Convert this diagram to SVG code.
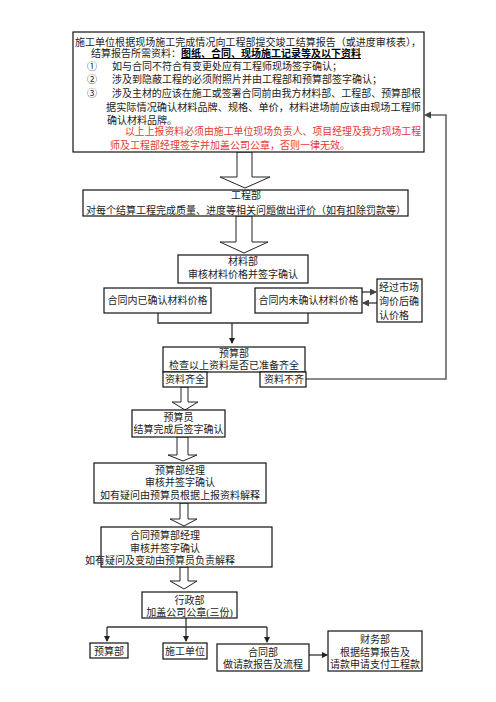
<svg xmlns="http://www.w3.org/2000/svg" width="496" height="702" viewBox="0 0 496 702">
<style>
text{font-family:"Liberation Serif","Noto Sans CJK SC",serif;font-size:10px;fill:#222}
.c{text-anchor:middle}
.red{fill:#e53935}
.box{fill:#fff;stroke:#111;stroke-width:1.2}
.blk{fill:#fff;stroke:#222;stroke-width:1}
.ln{fill:none;stroke:#333;stroke-width:1.3}
.fb{fill:none;stroke:#666;stroke-width:1.6}
</style>
<defs>
<marker id="ah" markerWidth="6" markerHeight="6" refX="5" refY="3" orient="auto" markerUnits="userSpaceOnUse"><path d="M0,0 L6,3 L0,6 Z" fill="#222"/></marker>
<marker id="ahg" markerWidth="7" markerHeight="7" refX="6" refY="3.5" orient="auto" markerUnits="userSpaceOnUse"><path d="M0,0 L7,3.5 L0,7 Z" fill="#444"/></marker>
</defs>
<rect width="496" height="702" fill="#fff"/>

<g id="connectors">
<polygon class="blk" points="237,152 252,152 252,177 270,177 245,188 220,177 237,177"/>
<polygon class="blk" points="236,216 252,216 252,242 268,242 244,253 220,242 236,242"/>
<polyline class="ln" points="158,313 158,323 308,323 308,313"/>
<line class="ln" x1="232" y1="323" x2="232" y2="343" marker-end="url(#ah)"/>
<line class="ln" x1="362" y1="292" x2="376" y2="292" marker-end="url(#ahg)"/>
<line class="ln" x1="377" y1="303" x2="363" y2="303" marker-end="url(#ahg)"/>
<polyline class="fb" points="306,379 446,379 446,115 430,115"/>
<path d="M424,115 L431,111.5 L431,118.5 Z" fill="#444"/>
<polygon class="blk" points="181,387 188,387 188,402 198,402 185,410 172,402 181,402"/>
<polygon class="blk" points="177,437 188,437 188,455 197,455 183,461 168,455 177,455"/>
<polygon class="blk" points="180,503 188,503 188,519 197,519 184,526 170,519 180,519"/>
<polygon class="blk" points="180,567 188,567 188,581 197,581 184,589 170,581 180,581"/>
<line class="ln" x1="186" y1="618" x2="186" y2="641" marker-end="url(#ah)"/>
<line class="ln" x1="107" y1="627" x2="267" y2="627"/>
<line class="ln" x1="107" y1="627" x2="107" y2="641" marker-end="url(#ah)"/>
<line class="ln" x1="267" y1="627" x2="267" y2="642" marker-end="url(#ah)"/>
<line class="ln" x1="309" y1="655" x2="327" y2="655" marker-end="url(#ah)"/>
</g>

<g id="top">
<rect class="box" x="73" y="32" width="351" height="120"/>
<text x="75" y="45.5" textLength="346" lengthAdjust="spacingAndGlyphs">施工单位根据现场施工完成情况向工程部提交竣工结算报告（或进度审核表），</text>
<text x="91" y="57">结算报告所需资料：<tspan font-weight="bold" text-decoration="underline" fill="#000">图纸、合同、现场施工记录等及以下资料</tspan></text>
<text x="87" y="69.5">①</text><text x="112" y="69.5">如与合同不符合有变更处应有工程师现场签字确认；</text>
<text x="87" y="83">②</text><text x="112" y="83">涉及到隐蔽工程的必须附照片并由工程部和预算部签字确认；</text>
<text x="87" y="97">③</text><text x="112" y="97" textLength="309" lengthAdjust="spacingAndGlyphs">涉及主材的应该在施工或签署合同前由我方材料部、工程部、预算部根</text>
<text x="106" y="110.5" textLength="315" lengthAdjust="spacingAndGlyphs">据实际情况确认材料品牌、规格、单价，材料进场前应该由现场工程师</text>
<text x="107" y="123.5">确认材料品牌。</text>
<text class="red" x="125" y="135" textLength="296" lengthAdjust="spacingAndGlyphs">以上上报资料必须由施工单位现场负责人、项目经理及我方现场工程</text>
<text class="red" x="110" y="148.5">师及工程部经理签字并加盖公司公章，否则一律无效。</text>
</g>

<g id="gcb">
<rect class="box" x="83" y="190" width="325" height="26"/>
<text class="c" x="246" y="199">工程部</text>
<text class="c" x="246" y="213.5">对每个结算工程完成质量、进度等相关问题做出评价（如有扣除罚款等）</text>
</g>

<g id="clb">
<rect class="box" x="178" y="255" width="130" height="28"/>
<text class="c" x="243" y="265">材料部</text>
<text class="c" x="243" y="278">审核材料价格并签字确认</text>
</g>

<g id="yqr">
<rect class="box" x="104" y="288" width="107" height="25"/>
<text class="c" x="157.5" y="304">合同内已确认材料价格</text>
</g>

<g id="wqr">
<rect class="box" x="255" y="288" width="107" height="25"/>
<text class="c" x="308.5" y="304">合同内未确认材料价格</text>
</g>

<g id="scxj">
<rect class="box" x="377" y="279" width="45" height="43"/>
<text x="379" y="291">经过市场</text>
<text x="379" y="305">询价后确</text>
<text x="379" y="319">认价格</text>
</g>

<g id="ysb">
<rect class="box" x="163" y="347" width="142" height="25"/>
<text class="c" x="234" y="356.5">预算部</text>
<text class="c" x="234" y="369">检查以上资料是否已准备齐全</text>
</g>

<g id="qq">
<rect class="box" x="163" y="372" width="44" height="15"/>
<text x="165" y="383">资料齐全</text>
</g>

<g id="bq">
<rect class="box" x="260" y="372" width="46" height="15"/>
<text x="264" y="383">资料不齐</text>
</g>

<g id="ysy">
<rect class="box" x="132" y="410" width="93" height="27"/>
<text class="c" x="178.5" y="420.5">预算员</text>
<text class="c" x="178.5" y="433">结算完成后签字确认</text>
</g>

<g id="ysjl">
<rect class="box" x="94" y="463" width="172" height="40"/>
<text class="c" x="180" y="473.5">预算部经理</text>
<text class="c" x="180" y="485.5">审核并签字确认</text>
<text class="c" x="180" y="498.5">如有疑问由预算员根据上报资料解释</text>
</g>

<g id="htysjl">
<rect class="box" x="101" y="527" width="171" height="40"/>
<text class="c" x="165" y="538.5">合同预算部经理</text>
<text class="c" x="165" y="551.5">审核并签字确认</text>
<text class="c" x="160" y="563.5">如有疑问及变动由预算员负责解释</text>
</g>

<g id="xzb">
<rect class="box" x="142" y="592" width="95" height="26"/>
<text class="c" x="189.5" y="603.5">行政部</text>
<text class="c" x="189.5" y="616">加盖公司公章(三份)</text>
</g>

<g id="ysb2">
<rect class="box" x="90" y="643" width="38" height="15"/>
<text class="c" x="109" y="654.5">预算部</text>
</g>

<g id="sgdw">
<rect class="box" x="163" y="643" width="44" height="16"/>
<text x="165" y="655">施工单位</text>
</g>

<g id="htb">
<rect class="box" x="217" y="644" width="92" height="27"/>
<text class="c" x="263" y="655.5">合同部</text>
<text class="c" x="263" y="668">做请款报告及流程</text>
</g>

<g id="cwb">
<rect class="box" x="328" y="631" width="94" height="40"/>
<text class="c" x="375" y="643">财务部</text>
<text class="c" x="375" y="655.5">根据结算报告及</text>
<text class="c" x="375" y="668">请款申请支付工程款</text>
</g>
</svg>
